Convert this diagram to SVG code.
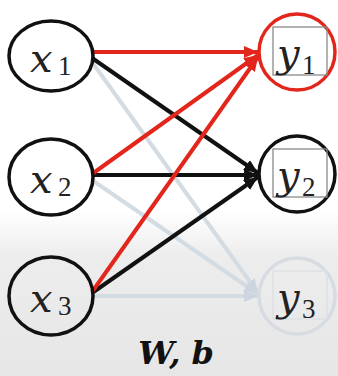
<svg xmlns="http://www.w3.org/2000/svg" width="338" height="376" viewBox="0 0 338 376">
<style>
.node{fill:none;stroke-width:3.5}
.blk{stroke:#111}
.red{stroke:#e3261c}
.fad{stroke:#d4dce3}
.edge{fill:none;stroke-width:4}
.sq{fill:none;stroke:#8a8a8a;stroke-width:1.3}
.sqf{fill:none;stroke:#dbe0e5;stroke-width:1.3}
.var{font-family:"DejaVu Serif",serif;font-style:italic;font-size:40px;fill:#222}
.sub{font-family:"Liberation Serif",serif;font-size:27px;fill:#222}
.wb{font-family:"DejaVu Serif",serif;font-style:italic;font-weight:bold;font-size:32px;fill:#111}
</style>
<defs>
<linearGradient id="bg" x1="0" y1="0" x2="0" y2="1">
<stop offset="0" stop-color="#ffffff"/>
<stop offset="0.56" stop-color="#ffffff"/>
<stop offset="0.68" stop-color="#ededed"/>
<stop offset="1" stop-color="#e6e6e6"/>
</linearGradient>
<marker id="ar" viewBox="0 0 14 12" refX="14" refY="6" markerWidth="14" markerHeight="12" markerUnits="userSpaceOnUse" orient="auto"><path d="M0,0 L14,6 L0,12 z" fill="#e3261c"/></marker>
<marker id="ab" viewBox="0 0 14 12" refX="14" refY="6" markerWidth="14" markerHeight="12" markerUnits="userSpaceOnUse" orient="auto"><path d="M0,0 L14,6 L0,12 z" fill="#111"/></marker>
<marker id="af" viewBox="0 0 14 12" refX="14" refY="6" markerWidth="14" markerHeight="12" markerUnits="userSpaceOnUse" orient="auto"><path d="M0,0 L14,6 L0,12 z" fill="#ccd5de"/></marker>
</defs>
<rect width="338" height="376" fill="url(#bg)"/>
<g id="connectors">
<line class="edge fad" x1="92" y1="62" x2="258" y2="293" marker-end="url(#af)" stroke-width="3"/>
<line class="edge fad" x1="92" y1="180" x2="258" y2="294" marker-end="url(#af)" stroke-width="3"/>
<line class="edge fad" x1="93" y1="296" x2="258" y2="296" marker-end="url(#af)" stroke-width="3"/>
<line class="edge blk" x1="92" y1="58" x2="258" y2="173" marker-end="url(#ab)"/>
<line class="edge blk" x1="93" y1="175" x2="258" y2="175" marker-end="url(#ab)"/>
<line class="edge blk" x1="92" y1="293" x2="258" y2="177" marker-end="url(#ab)"/>
<line class="edge red" x1="93" y1="52" x2="258" y2="52" marker-end="url(#ar)"/>
<line class="edge red" x1="92" y1="174" x2="258" y2="55" marker-end="url(#ar)"/>
<line class="edge red" x1="92" y1="292" x2="258" y2="57" marker-end="url(#ar)"/>
</g>
<g id="x1"><ellipse class="node blk" cx="51" cy="56" rx="42" ry="35"/><text class="var" x="30" y="72">x</text><text class="sub" x="58" y="75">1</text></g>
<g id="x2"><ellipse class="node blk" cx="51" cy="177" rx="42" ry="38"/><text class="var" x="30" y="193">x</text><text class="sub" x="58" y="196">2</text></g>
<g id="x3"><ellipse class="node blk" cx="51" cy="296" rx="42" ry="39"/><text class="var" x="30" y="312">x</text><text class="sub" x="58" y="315">3</text></g>
<g id="y1"><circle class="node red" cx="297" cy="52" r="38"/><rect class="sq" x="273" y="27" width="54" height="48"/><text class="var" x="277" y="67">y</text><text class="sub" x="302" y="74">1</text></g>
<g id="y2"><circle class="node blk" cx="297" cy="174" r="38"/><rect class="sq" x="273" y="149" width="54" height="48"/><text class="var" x="277" y="189">y</text><text class="sub" x="302" y="196">2</text></g>
<g id="y3"><circle class="node" stroke="#d6dce2" cx="297" cy="296" r="38"/><rect class="sqf" x="273" y="271" width="54" height="48"/><text class="var" x="277" y="311">y</text><text class="sub" x="302" y="318">3</text></g>
<g id="label"><text class="wb" x="176" y="364" text-anchor="middle">W, b</text></g>
</svg>
